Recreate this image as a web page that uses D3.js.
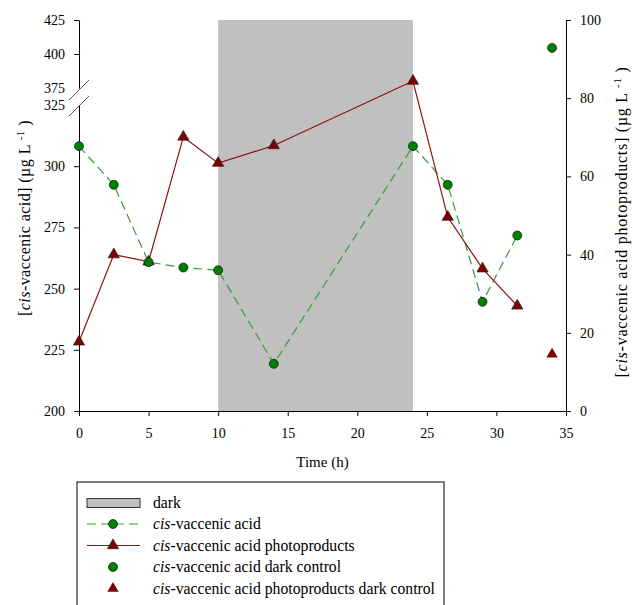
<!DOCTYPE html>
<html>
<head>
<meta charset="utf-8">
<script src="https://cdn.jsdelivr.net/npm/d3@7"></script>
<style>
body { margin: 0; background: #fff; }
svg text { font-family: "Liberation Serif", "Times New Roman", serif; fill: #000; }
</style>
</head>
<body>
<svg id="chart" width="633" height="605" font-family="Liberation Serif, serif"></svg>
<script>
// ---- data ----
const timeAcid = [0, 2.5, 5, 7.5, 10, 14, 24, 26.5, 29, 31.5];
const acid = [308.2, 292.4, 260.8, 258.6, 257.5, 219.3, 308.2, 292.4, 244.6, 271.7];
const timePhoto = [0, 2.5, 5, 7.5, 10, 14, 24, 26.5, 29, 31.5];
const photo = [17.7, 40.0, 38.2, 70.1, 63.4, 67.9, 84.4, 49.6, 36.4, 26.9];
const timeDarkCtrl = [34];
const acidDarkCtrl = [404.5];
const photoDarkCtrl = [14.5];
const darkPeriod = [10, 24];
const xTicks = [0, 5, 10, 15, 20, 25, 30, 35];
const yLowTicks = [200, 225, 250, 275, 300, 325];
const yHighTicks = [375, 400, 425];
const yRightTicks = [0, 20, 40, 60, 80, 100];
const legendLabels = ["dark", "cis-vaccenic acid", "cis-vaccenic acid photoproducts",
  "cis-vaccenic acid dark control", "cis-vaccenic acid photoproducts dark control"];

const SERIF = '"Liberation Serif", "Times New Roman", serif';
const svg = d3.select("#chart");
const L = 79, R = 566, B = 411, T = 20;

const x = d3.scaleLinear().domain([0, 35]).range([L, R]);
const yLow = d3.scaleLinear().domain([200, 325]).range([B, 105]);
const yHigh = d3.scaleLinear().domain([375, 425]).range([88, T]);
const yLeft = v => v >= 350 ? yHigh(v) : yLow(v);
const yRight = d3.scaleLinear().domain([0, 100]).range([B, T]);

const greenFill = "#008000", greenLine = "#3a9a3a";
const redFill = "#800000", redLine = "#8b1010";

// dark period
svg.append("rect")
  .attr("x", x(darkPeriod[0])).attr("y", T)
  .attr("width", x(darkPeriod[1]) - x(darkPeriod[0]))
  .attr("height", B - T)
  .attr("fill", "#c0c0c0");

// axes
function styleAxis(g) {
  g.attr("font-family", SERIF).attr("font-size", 14);
  g.selectAll("text").style("font-size", "14px").style("font-family", SERIF);
  g.selectAll("path, line").attr("stroke", "#000");
}
const gx = svg.append("g").attr("transform", `translate(0,${B})`)
  .call(d3.axisBottom(x).tickValues(xTicks).tickSize(5).tickSizeOuter(0).tickPadding(12));
styleAxis(gx);

const gyl = svg.append("g").attr("transform", `translate(${L},0)`)
  .call(d3.axisLeft(yLow).tickValues(yLowTicks).tickSize(5).tickSizeOuter(0).tickPadding(9));
styleAxis(gyl);
gyl.selectAll(".tick").filter(d => d === 325).select("line").remove();

const gyh = svg.append("g").attr("transform", `translate(${L},0)`)
  .call(d3.axisLeft(yHigh).tickValues(yHighTicks).tickSize(5).tickSizeOuter(0).tickPadding(9));
styleAxis(gyh);
gyh.selectAll(".tick").filter(d => d === 375).select("line").remove();

const gyr = svg.append("g").attr("transform", `translate(${R},0)`)
  .call(d3.axisRight(yRight).tickValues(yRightTicks).tickSize(5).tickSizeOuter(0).tickPadding(9));
styleAxis(gyr);

// break marks
[[100, 80], [116, 96]].forEach(([y1, y2]) => {
  svg.append("line").attr("x1", L - 10).attr("y1", y1).attr("x2", L + 10).attr("y2", y2)
    .attr("stroke", "#555").attr("stroke-width", 1);
});

// axis titles
svg.append("text").attr("x", (L + R) / 2).attr("y", 467).attr("text-anchor", "middle")
  .style("font-family", SERIF).style("font-size", "15px").text("Time (h)");

function yTitle(cx, cy, main, target) {
  const t = svg.append("text").attr("transform", `translate(${cx},${cy}) rotate(-90)`)
    .attr("text-anchor", "middle").style("font-family", SERIF).style("font-size", "16px");
  t.append("tspan").text("[");
  t.append("tspan").style("font-style", "italic").text("cis");
  t.append("tspan").text(main + " (\u00B5g L ");
  t.append("tspan").attr("dy", "-6").style("font-size", "11px").text("-1");
  t.append("tspan").attr("dy", "6").text(" )");
  const len = t.node().getComputedTextLength();
  const n = t.text().length;
  if (len < target) t.style("letter-spacing", ((target - len) / n) + "px");
}
yTitle(30, 218, "-vaccenic acid]", 196);
yTitle(627, 222, "-vaccenic acid photoproducts]", 311);

// lines
const acidPts = timeAcid.map((t, i) => [t, acid[i]]);
const photoPts = timePhoto.map((t, i) => [t, photo[i]]);

svg.append("path").datum(acidPts)
  .attr("d", d3.line().x(d => x(d[0])).y(d => yLeft(d[1])))
  .attr("fill", "none").attr("stroke", greenLine).attr("stroke-width", 1.2)
  .attr("stroke-dasharray", "9,5");
svg.append("path").datum(photoPts)
  .attr("d", d3.line().x(d => x(d[0])).y(d => yRight(d[1])))
  .attr("fill", "none").attr("stroke", redLine).attr("stroke-width", 1.2);

const tri = d3.symbol().type(d3.symbolTriangle).size(55);

svg.append("g").selectAll("path").data(photoPts).join("path")
  .attr("d", tri).attr("transform", d => `translate(${x(d[0])},${yRight(d[1])})`)
  .attr("fill", redFill).attr("stroke", "#222").attr("stroke-width", 0.7);
svg.append("g").selectAll("circle").data(acidPts).join("circle")
  .attr("cx", d => x(d[0])).attr("cy", d => yLeft(d[1])).attr("r", 4.5)
  .attr("fill", greenFill).attr("stroke", "#111").attr("stroke-width", 0.7);

// dark controls
svg.append("g").selectAll("circle").data(timeDarkCtrl.map((t, i) => [t, acidDarkCtrl[i]])).join("circle")
  .attr("cx", d => x(d[0])).attr("cy", d => yLeft(d[1])).attr("r", 4.5)
  .attr("fill", greenFill).attr("stroke", "#111").attr("stroke-width", 0.7);
svg.append("g").selectAll("path").data(timeDarkCtrl.map((t, i) => [t, photoDarkCtrl[i]])).join("path")
  .attr("d", tri).attr("transform", d => `translate(${x(d[0])},${yRight(d[1])})`)
  .attr("fill", redFill);

// legend
svg.append("rect").attr("x", 77).attr("y", 482).attr("width", 367).attr("height", 140)
  .attr("fill", "none").attr("stroke", "#000").attr("stroke-width", 1);
const rowY = [503, 524, 545.5, 567, 588.5];
const sx0 = 87, sx1 = 140, sxm = 113, tx = 153;
const legendTexts = legendLabels.map((lab, i) => {
  const y = rowY[i];
  const t = svg.append("text").attr("x", tx).attr("y", y + 5)
    .style("font-family", SERIF).style("font-size", "15px");
  if (lab.startsWith("cis")) {
    t.append("tspan").style("font-style", "italic").text("cis");
    t.append("tspan").text(lab.slice(3));
  } else t.text(lab);
  return t;
});
{
  const longest = legendTexts[4].node().getComputedTextLength();
  const fs = 15 * 282 / longest;
  legendTexts.forEach(t => t.style("font-size", Math.min(16.5, fs) + "px"));
}
svg.append("rect").attr("x", sx0).attr("y", rowY[0] - 4.5).attr("width", sx1 - sx0).attr("height", 9)
  .attr("fill", "#c0c0c0").attr("stroke", "#333").attr("stroke-width", 1);
svg.append("line").attr("x1", sx0).attr("x2", sx1).attr("y1", rowY[1]).attr("y2", rowY[1])
  .attr("stroke", greenLine).attr("stroke-width", 1.2).attr("stroke-dasharray", "9,5");
svg.append("circle").attr("cx", sxm).attr("cy", rowY[1]).attr("r", 4.5)
  .attr("fill", greenFill).attr("stroke", "#111").attr("stroke-width", 0.7);
svg.append("line").attr("x1", sx0).attr("x2", sx1).attr("y1", rowY[2]).attr("y2", rowY[2])
  .attr("stroke", redLine).attr("stroke-width", 1.2);
svg.append("path").attr("d", tri).attr("transform", `translate(${sxm},${rowY[2]})`)
  .attr("fill", redFill).attr("stroke", "#222").attr("stroke-width", 0.7);
svg.append("circle").attr("cx", sxm).attr("cy", rowY[3]).attr("r", 4.5)
  .attr("fill", greenFill).attr("stroke", "#111").attr("stroke-width", 0.7);
svg.append("path").attr("d", tri).attr("transform", `translate(${sxm},${rowY[4]})`)
  .attr("fill", redFill);
</script>
</body>
</html>
